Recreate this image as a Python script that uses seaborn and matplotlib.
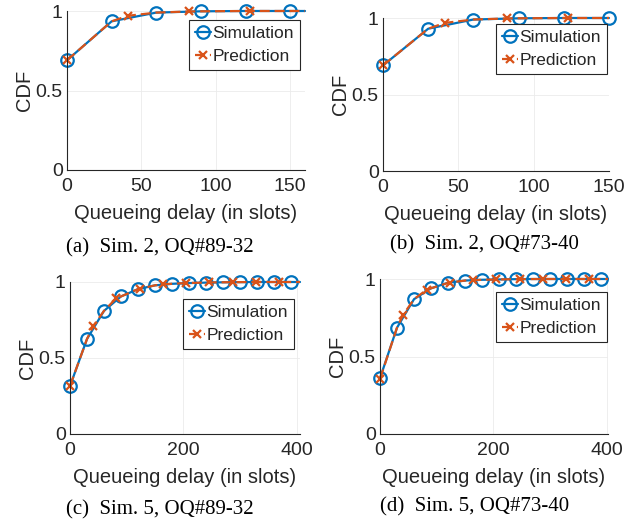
import numpy as np
import pandas as pd
import matplotlib
matplotlib.use("Agg")
import matplotlib.pyplot as plt
import seaborn as sns

# ---------------- data ----------------
# (a) Sim. 2, OQ#89-32
sim_x_a = [0, 30, 60, 90, 120, 150, 160]
sim_y_a = [0.69, 0.935, 0.99, 0.998, 1.0, 1.0, 1.0]
pred_x_a = [0, 30, 41, 60, 82, 90, 120, 123, 150, 160]
pred_y_a = [0.69, 0.935, 0.97, 0.99, 0.997, 0.998, 1.0, 1.0, 1.0, 1.0]

# (b) Sim. 2, OQ#73-40
sim_x_b = [0, 30, 60, 90, 120, 150]
sim_y_b = [0.69, 0.93, 0.99, 0.998, 1.0, 1.0]
pred_x_b = [0, 30, 41, 60, 82, 90, 120, 123, 150]
pred_y_b = [0.69, 0.93, 0.968, 0.99, 0.997, 0.998, 1.0, 1.0, 1.0]

# (c) Sim. 5, OQ#89-32
sim_x_c = [0, 30, 60, 90, 120, 150, 180, 210, 240, 270, 300, 330, 360, 390, 406]
sim_y_c = [0.315, 0.625, 0.81, 0.905, 0.953, 0.978, 0.988, 0.993, 0.996, 0.998,
           0.999, 1.0, 1.0, 1.0, 1.0]
pred_x_c = [0, 30, 41, 60, 82, 90, 120, 123, 150, 164, 205, 246, 287, 328, 369, 406]
pred_y_c = [0.315, 0.625, 0.71, 0.81, 0.895, 0.905, 0.953, 0.955, 0.978, 0.985,
            0.993, 0.997, 0.999, 1.0, 1.0, 1.0]

# (d) Sim. 5, OQ#73-40
sim_x_d = [0, 30, 60, 90, 120, 150, 180, 210, 240, 270, 300, 330, 360, 390, 402]
sim_y_d = [0.36, 0.686, 0.87, 0.94, 0.976, 0.99, 0.995, 0.997, 0.999, 1.0,
           1.0, 1.0, 1.0, 1.0, 1.0]
pred_x_d = [0, 30, 41, 60, 82, 90, 120, 123, 150, 164, 205, 246, 287, 328, 369, 402]
pred_y_d = [0.355, 0.686, 0.77, 0.87, 0.93, 0.94, 0.975, 0.977, 0.99, 0.993,
            0.997, 0.999, 1.0, 1.0, 1.0, 1.0]

captions = ["(a)  Sim. 2, OQ#89-32", "(b)  Sim. 2, OQ#73-40",
            "(c)  Sim. 5, OQ#89-32", "(d)  Sim. 5, OQ#73-40"]
xlims = [160, 150, 406, 402]
xticks = [[0, 50, 100, 150], [0, 50, 100, 150], [0, 200, 400], [0, 200, 400]]
yticks = [0, 0.5, 1]
ytick_labels = ["0", "0.5", "1"]
series_labels = ["Simulation", "Prediction"]

# ---------------- style ----------------
sns.set_theme(style="white")
plt.rcParams["font.family"] = ["Liberation Sans", "DejaVu Sans"]

W, H = 639, 526
fig = plt.figure(figsize=(W / 100, H / 100), dpi=100)

BLUE = "#0072BD"
ORANGE = "#D95319"
AXC = "#262626"

# axes boxes in pixels: left, right, top, bottom
boxes = [(67, 305, 11, 170), (383, 609, 18, 171), (70, 300, 282, 434), (380, 608, 279, 434)]
legend_anchor = [(300, 20), (607, 24), (294, 299), (607, 292)]
caption_pos = [(160, 248), (484, 245), (160, 510), (475, 507)]

panels = [
    (sim_x_a, sim_y_a, pred_x_a, pred_y_a),
    (sim_x_b, sim_y_b, pred_x_b, pred_y_b),
    (sim_x_c, sim_y_c, pred_x_c, pred_y_c),
    (sim_x_d, sim_y_d, pred_x_d, pred_y_d),
]

for i, (sx, sy, px, py) in enumerate(panels):
    l, r, t, b = boxes[i]
    ax = fig.add_axes([l / W, 1 - b / H, (r - l) / W, (b - t) / H])
    sim_marks = [k for k, v in enumerate(sx) if v % 30 == 0]
    pred_marks = [k for k, v in enumerate(px) if v % 41 == 0]
    sdf = pd.DataFrame({"x": sx, "y": sy})
    pdf = pd.DataFrame({"x": px, "y": py})
    sns.lineplot(data=sdf, x="x", y="y", ax=ax, color=BLUE, lw=1.6,
                 marker="o", markersize=9, markerfacecolor="none",
                 markeredgecolor=BLUE, markeredgewidth=1.6,
                 markevery=sim_marks, label=series_labels[0], clip_on=False,
                 sort=False)
    sns.lineplot(data=pdf, x="x", y="y", ax=ax, color=ORANGE, lw=1.6,
                 linestyle=(0, (4.5, 2.2)), marker="x", markersize=6,
                 markeredgecolor=ORANGE, markeredgewidth=1.6,
                 markevery=pred_marks, label=series_labels[1], clip_on=False,
                 sort=False)
    ax.set_xlim(0, xlims[i])
    ax.set_ylim(0, 1)
    ax.set_xticks(xticks[i])
    ax.set_yticks(yticks)
    ax.set_yticklabels(ytick_labels)
    ax.grid(True, color="#ebebeb", lw=0.6)
    for s in ["top", "right"]:
        ax.spines[s].set_visible(False)
    for s in ["left", "bottom"]:
        ax.spines[s].set_color(AXC)
        ax.spines[s].set_linewidth(0.8)
    ax.tick_params(direction="in", length=3, width=0.8, colors=AXC,
                   labelsize=14, labelcolor=AXC)
    ax.tick_params(axis="x", pad=6)
    ax.tick_params(axis="y", pad=3)
    ax.set_xlabel("Queueing delay (in slots)", fontsize=14.5, color=AXC, labelpad=6.5)
    ax.set_ylabel("CDF", fontsize=14.5, color=AXC, labelpad=1.5)
    ax.set_facecolor("none")
    ax.patch.set_alpha(0)
    ax_r, ax_t = legend_anchor[i]
    leg = ax.legend(loc="upper right", bbox_to_anchor=(ax_r / W, 1 - ax_t / H),
                    bbox_transform=fig.transFigure, fontsize=12.5, frameon=True,
                    fancybox=False, framealpha=1, edgecolor=AXC, borderpad=0.35,
                    handlelength=0.9, handletextpad=0.1, labelspacing=0.45,
                    borderaxespad=0)
    leg.get_frame().set_linewidth(0.8)
    cx, cy = caption_pos[i]
    fig.text(cx / W, 1 - cy / H, captions[i], ha="center", va="center",
             fontsize=15, family=["Liberation Serif", "DejaVu Serif"], color="black")

fig.savefig("out.png", dpi=100)
